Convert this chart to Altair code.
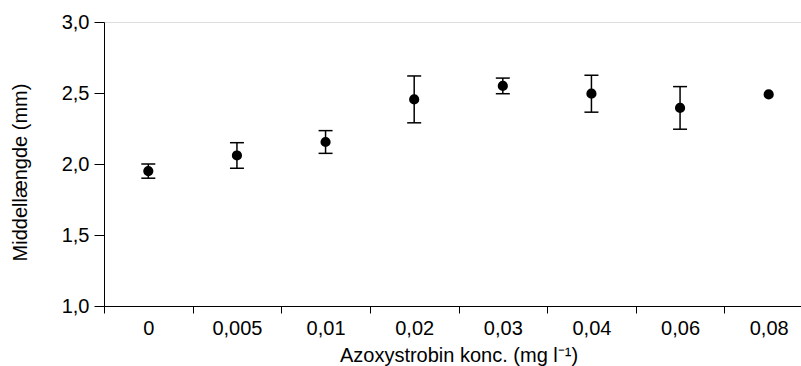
import altair as alt
import pandas as pd

categories = ["0", "0,005", "0,01", "0,02", "0,03", "0,04", "0,06", "0,08"]
means = [1.95, 2.06, 2.155, 2.455, 2.55, 2.495, 2.395, 2.49]
errors = [0.05, 0.09, 0.08, 0.165, 0.055, 0.13, 0.15, 0.0]

df = pd.DataFrame({"konc": categories, "mean": means, "err": errors})
df["lo"] = df["mean"] - df["err"]
df["hi"] = df["mean"] + df["err"]

FONT = "Liberation Sans"
FS = 20

x_enc = alt.X(
    "konc:N",
    sort=categories,
    scale=alt.Scale(domain=categories, range=[0, 709], paddingInner=0, paddingOuter=0),
    axis=alt.Axis(
        title="Azoxystrobin konc. (mg l⁻¹)",
        labelAngle=0,
        labelAlign="center",
        labelBaseline="top",
        labelFlush=False,
        tickBand="extent",
        tickSize=7,
        labelPadding=5,
        titlePadding=7,
        domainColor="black",
        tickColor="black",
        labelColor="black",
        titleColor="black",
        labelFont=FONT,
        titleFont=FONT,
        labelFontSize=FS,
        titleFontSize=FS,
        titleFontWeight="normal",
        grid=False,
    ),
)

y_scale = alt.Scale(domain=[1.0, 3.0], nice=False, zero=False)

base = alt.Chart(df)

points = base.mark_point(filled=True, size=104, color="black", opacity=1).encode(
    x=x_enc,
    y=alt.Y(
        "mean:Q",
        scale=y_scale,
        axis=alt.Axis(
            title="Middellængde (mm)",
            values=[1.0, 1.5, 2.0, 2.5, 3.0],
            labelExpr="replace(format(datum.value, '.1f'), '.', ',')",
            tickSize=10,
            labelPadding=5,
            titlePadding=31,
            titleY=150,
            domainColor="black",
            tickColor="black",
            labelColor="black",
            titleColor="black",
            labelFont=FONT,
            titleFont=FONT,
            labelFontSize=FS,
            titleFontSize=FS,
            titleFontWeight="normal",
            grid=False,
        ),
    ),
)

eb = base.transform_filter("datum.err > 0")

rules = eb.mark_rule(color="black", strokeWidth=1.5).encode(
    x=alt.X("konc:N", sort=categories),
    y=alt.Y("lo:Q", scale=y_scale),
    y2="hi:Q",
)
caps_lo = eb.mark_tick(color="black", thickness=1.5, size=14, opacity=1).encode(
    x=alt.X("konc:N", sort=categories),
    y=alt.Y("lo:Q", scale=y_scale),
)
caps_hi = eb.mark_tick(color="black", thickness=1.5, size=14, opacity=1).encode(
    x=alt.X("konc:N", sort=categories),
    y=alt.Y("hi:Q", scale=y_scale),
)

chart = (
    alt.layer(rules, caps_lo, caps_hi, points)
    .properties(
        width=697,
        height=284,
        autosize=alt.AutoSizeParams(type="none"),
        padding={"left": 104, "top": 22, "right": 0, "bottom": 60},
    )
    .configure_view(stroke="black", strokeWidth=1)
    .configure(background="white")
)

chart.save("out.html", embed_options={"renderer": "svg", "actions": False})
